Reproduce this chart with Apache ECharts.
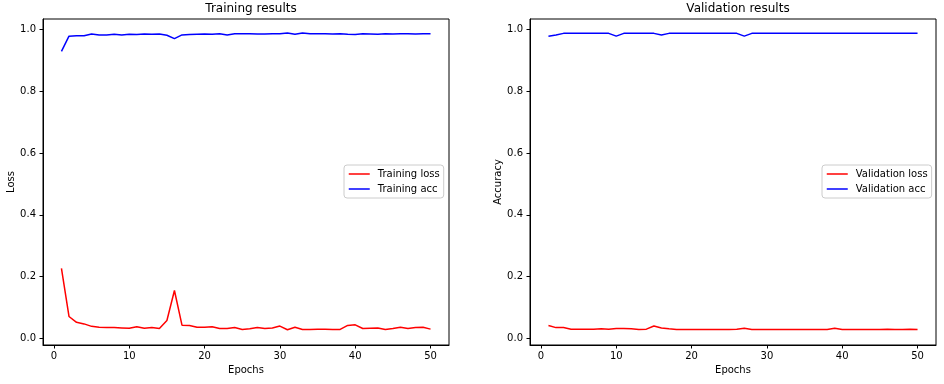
<!DOCTYPE html>
<html>
<head>
<meta charset="utf-8">
<script src="https://cdn.jsdelivr.net/npm/echarts@6/dist/echarts.min.js"></script>
<style>
html,body{margin:0;padding:0;background:#fff;}
#chart{width:944px;height:384px;}
</style>
</head>
<body>
<div id="chart"></div>
<script>
const epochs = [1,2,3,4,5,6,7,8,9,10,11,12,13,14,15,16,17,18,19,20,21,22,23,24,25,26,27,28,29,30,31,32,33,34,35,36,37,38,39,40,41,42,43,44,45,46,47,48,49,50];
const trainLoss = [0.227,0.071,0.052,0.047,0.039,0.036,0.035,0.035,0.034,0.033,0.038,0.033,0.035,0.032,0.058,0.155,0.043,0.042,0.036,0.036,0.038,0.032,0.032,0.035,0.029,0.031,0.035,0.032,0.034,0.040,0.028,0.036,0.029,0.029,0.030,0.030,0.029,0.029,0.042,0.044,0.032,0.033,0.034,0.029,0.032,0.036,0.032,0.035,0.036,0.030];
const trainAcc = [0.929,0.978,0.979,0.979,0.985,0.982,0.982,0.984,0.982,0.984,0.983,0.985,0.984,0.985,0.981,0.970,0.982,0.983,0.984,0.985,0.984,0.986,0.982,0.986,0.986,0.986,0.985,0.985,0.986,0.986,0.988,0.984,0.988,0.986,0.986,0.986,0.985,0.986,0.984,0.983,0.986,0.985,0.984,0.986,0.985,0.986,0.986,0.985,0.986,0.986];
const valLoss = [0.042,0.035,0.035,0.030,0.030,0.030,0.030,0.031,0.030,0.032,0.032,0.031,0.029,0.030,0.040,0.034,0.031,0.029,0.029,0.029,0.029,0.029,0.029,0.029,0.029,0.030,0.033,0.029,0.029,0.029,0.029,0.029,0.029,0.029,0.029,0.029,0.029,0.029,0.033,0.029,0.029,0.029,0.029,0.029,0.029,0.030,0.029,0.029,0.030,0.029];
const valAcc = [0.978,0.982,0.987,0.987,0.987,0.987,0.987,0.987,0.987,0.978,0.987,0.987,0.987,0.987,0.987,0.982,0.987,0.987,0.987,0.987,0.987,0.987,0.987,0.987,0.987,0.987,0.978,0.987,0.987,0.987,0.987,0.987,0.987,0.987,0.987,0.987,0.987,0.987,0.987,0.987,0.987,0.987,0.987,0.987,0.987,0.987,0.987,0.987,0.987,0.987];
const xTicks = [0,10,20,30,40,50];
const yTicks = [0,0.2,0.4,0.6,0.8,1.0];
const titles = ['Training results','Validation results'];
const yNames = ['Loss','Accuracy'];
const xName = 'Epochs';
const seriesNames = [['Training loss','Training acc'],['Validation loss','Validation acc']];

const FONT = 'DejaVu Sans';
const chart = echarts.init(document.getElementById('chart'), null, {renderer:'canvas'});
const pair = (arr) => epochs.map((e,i)=>[e, arr[i]]);

const gridsPos = [{left:43, top:19, width:406, height:326},{left:530, top:19, width:406, height:326}];
const titleX = [246, 733];
const legendPos = [{left:344, top:165},{left:822, top:165}];
const yNameGap = [26, 27];

function xAxis(i){
  return {type:'value', gridIndex:i, min:-1.45, max:52.45,
    name:xName, nameLocation:'middle', nameGap:19,
    nameTextStyle:{fontFamily:FONT, fontSize:10, color:'#000'},
    axisLine:{show:true, onZero:false, lineStyle:{color:'#000', width:1}},
    axisTick:{show:true, inside:false, length:3.5, customValues:xTicks, lineStyle:{color:'#000'}},
    axisLabel:{show:true, customValues:xTicks, margin:6, fontFamily:FONT, fontSize:10, color:'#000', formatter:(v)=>String(Math.round(v))},
    splitLine:{show:false}};
}
function yAxis(i){
  return {type:'value', gridIndex:i, min:-0.0213, max:1.0335,
    name:yNames[i], nameLocation:'middle', nameGap:yNameGap[i],
    nameTextStyle:{fontFamily:FONT, fontSize:10, color:'#000'},
    axisLine:{show:true, onZero:false, lineStyle:{color:'#000', width:1}},
    axisTick:{show:true, inside:false, length:3.5, customValues:yTicks, lineStyle:{color:'#000'}},
    axisLabel:{show:true, customValues:yTicks, margin:7, fontFamily:FONT, fontSize:10, color:'#000', formatter:(v)=>v.toFixed(1)},
    splitLine:{show:false}};
}
function line(name, data, color, i){
  return {type:'line', name:name, xAxisIndex:i, yAxisIndex:i, data:pair(data),
    symbol:'none', showSymbol:false, animation:false,
    lineStyle:{color:color, width:1.5}, itemStyle:{color:color}};
}
const option = {
  animation:false,
  backgroundColor:'#fff',
  title: titles.map((t,i)=>({text:t, left:titleX[i], top:-2, textAlign:'center',
    textStyle:{fontFamily:FONT, fontSize:12, fontWeight:'normal', color:'#000'}})),
  grid: gridsPos.map(g=>Object.assign({show:true, borderColor:'#000', borderWidth:1, backgroundColor:'transparent', containLabel:false}, g)),
  xAxis:[xAxis(0), xAxis(1)],
  yAxis:[yAxis(0), yAxis(1)],
  legend: seriesNames.map((names,i)=>({
    data:names, orient:'vertical', itemWidth:21, itemHeight:10, itemGap:5,
    left:legendPos[i].left, top:legendPos[i].top,
    padding:[4,4,4,4], borderColor:'#ccc', borderWidth:1, borderRadius:3,
    backgroundColor:'rgba(255,255,255,0.8)', selectedMode:false,
    itemStyle:{opacity:0},
    lineStyle:{width:1.5},
    textStyle:{fontFamily:FONT, fontSize:10, color:'#000', padding:[0,0,0,3]}
  })),
  series:[
    line(seriesNames[0][0], trainLoss, '#ff0000', 0),
    line(seriesNames[0][1], trainAcc, '#0000ff', 0),
    line(seriesNames[1][0], valLoss, '#ff0000', 1),
    line(seriesNames[1][1], valAcc, '#0000ff', 1)
  ]
};
chart.setOption(option);
</script>
</body>
</html>
